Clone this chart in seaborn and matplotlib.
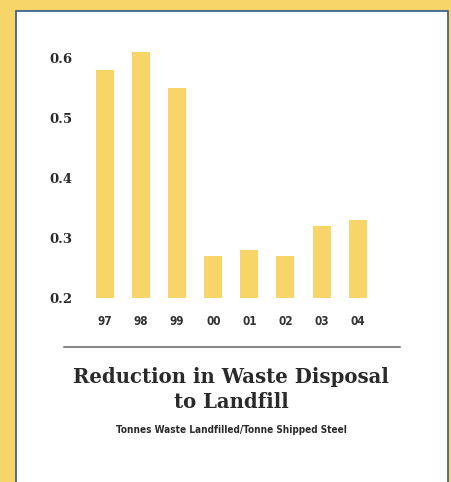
import matplotlib
matplotlib.use("Agg")
import matplotlib.pyplot as plt
from matplotlib.patches import Rectangle
from matplotlib.lines import Line2D
import seaborn as sns
import pandas as pd

years = ["97", "98", "99", "00", "01", "02", "03", "04"]
tonnes = [0.58, 0.61, 0.55, 0.27, 0.28, 0.27, 0.32, 0.33]
y_ticks = [0.2, 0.3, 0.4, 0.5, 0.6]

YELLOW = "#F7D568"
BLUE = "#2B5A8A"
TEXT = "#2a2a2a"

sns.set_style("white")
plt.rcParams["font.family"] = ["DejaVu Serif"]

W, H = 451, 482
fig = plt.figure(figsize=(W / 100, H / 100), dpi=100, facecolor=YELLOW)

# white panel with thin blue frame
fig.patches.append(Rectangle((16 / W, -0.01), 432 / W, (H - 11) / H + 0.01,
                             transform=fig.transFigure, facecolor="white",
                             edgecolor=BLUE, linewidth=1.2, zorder=0))

ax = fig.add_axes([83.3 / W, (H - 298) / H, 296 / W, 252 / H])
ax.set_facecolor("none")
ax.set_zorder(2)

df = pd.DataFrame({"year": years, "value": tonnes})
sns.barplot(data=df, x="year", y="value", color=YELLOW, saturation=1,
            width=0.5, ax=ax)
for p in ax.patches:
    p.set_edgecolor("none")

ax.set_ylim(0.2, 0.62)
ax.set_xlim(-0.6, 7.6)
ax.set_yticks(y_ticks)
ax.set_yticklabels([f"{t:.1f}" for t in y_ticks], fontsize=9.5,
                   fontweight="bold", color=TEXT, family="DejaVu Serif",
                   fontstretch="normal")
ax.set_xticks(range(len(years)))
ax.set_xticklabels(years, fontsize=8.5, fontweight="bold", color="#333333",
                   family="DejaVu Sans", fontstretch="condensed")
ax.tick_params(axis="y", length=0, pad=8)
ax.tick_params(axis="x", length=0, pad=12)
ax.set_xlabel("")
ax.set_ylabel("")
sns.despine(ax=ax, left=True, bottom=True)

fig.add_artist(Line2D([64 / W, 400 / W], [1 - 347 / H, 1 - 347 / H],
                      transform=fig.transFigure, color="#888888", linewidth=1.5))

fig.text(231 / W, 1 - 383 / H, "Reduction in Waste Disposal", ha="center",
         va="baseline", fontsize=14.2, fontweight="bold", color=TEXT,
         family="DejaVu Serif")
fig.text(231 / W, 1 - 408 / H, "to Landfill", ha="center", va="baseline",
         fontsize=14.2, fontweight="bold", color=TEXT, family="DejaVu Serif")
fig.text(231 / W, 1 - 433 / H, "Tonnes Waste Landfilled/Tonne Shipped Steel",
         ha="center", va="baseline", fontsize=7.2, fontweight="bold",
         color=TEXT, family="DejaVu Sans", fontstretch="condensed")

fig.savefig("out.png", dpi=100, facecolor=YELLOW)
